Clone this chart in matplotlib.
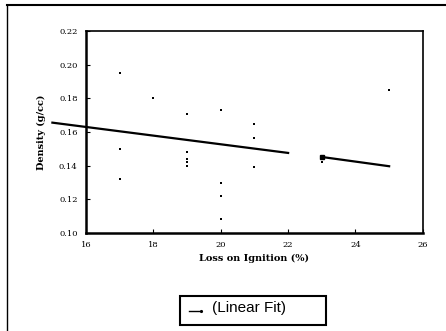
import matplotlib
matplotlib.use("Agg")
import matplotlib.pyplot as plt
from matplotlib.lines import Line2D
from matplotlib.patches import Rectangle

# Data
loi = [16, 16, 16, 17, 17, 17, 18, 19, 19, 19, 19, 19, 20, 20, 20, 20, 21, 21, 21, 23, 23, 25]
density = [0.211, 0.171, 0.150, 0.195, 0.150, 0.132, 0.180, 0.171, 0.148, 0.144, 0.142, 0.140,
           0.173, 0.130, 0.122, 0.1085, 0.1645, 0.1565, 0.139, 0.144, 0.142, 0.185]

fit1_x = [15.0, 22.0]
fit1_y = [0.1656, 0.1476]
fit2_x = [23.0, 25.0]
fit2_y = [0.1452, 0.1397]

xticks = [16, 18, 20, 22, 24, 26]
yticks = [0.10, 0.12, 0.14, 0.16, 0.18, 0.20, 0.22]
ytick_labels = ["0.10", "0.12", "0.14", "0.16", "0.18", "0.20", "0.22"]
legend_label = "(Linear Fit)"

fig = plt.figure(figsize=(4.46, 3.31), dpi=100)
ax = fig.add_axes([0.193, 0.296, 0.755, 0.610])

ax.scatter(loi, density, s=3, marker='s', color='black', linewidths=0, zorder=3)
ax.plot(fit1_x, fit1_y, color='black', lw=1.6, clip_on=False, zorder=2)
ax.plot(fit2_x, fit2_y, color='black', lw=1.6, zorder=2)
ax.plot([fit2_x[0]], [fit2_y[0]], marker='s', ms=3.5, color='black')

ax.set_xlim(16, 26)
ax.set_ylim(0.10, 0.22)
ax.set_xticks(xticks)
ax.set_xticklabels([str(t) for t in xticks], family='DejaVu Serif', fontsize=6)
ax.set_yticks(yticks)
ax.set_yticklabels(ytick_labels, family='DejaVu Serif', fontsize=6)
ax.tick_params(direction='in', length=3, width=0.8, pad=6)

for s in ['left', 'bottom']:
    ax.spines[s].set_linewidth(1.8)
for s in ['top', 'right']:
    ax.spines[s].set_linewidth(1.2)

ax.set_xlabel("Loss on Ignition (%)", family='DejaVu Serif', fontsize=7, fontweight='bold', labelpad=3)
ax.set_ylabel("Density (g/cc)", family='DejaVu Serif', fontsize=7, fontweight='bold', labelpad=9)

# Legend drawn as a box with a short line sample and text
W, H = 446.0, 331.0
box = Rectangle((180 / W, 1 - 325 / H), 146 / W, 29 / H, transform=fig.transFigure,
                fill=False, edgecolor='black', lw=1.5)
fig.add_artist(box)
fig.add_artist(Line2D([189 / W, 201 / W], [1 - 311 / H, 1 - 311 / H], color='black', lw=1.0,
                      marker='.', markevery=[1], ms=2.5, transform=fig.transFigure))
fig.text(212 / W, 1 - 308 / H, legend_label, family='Liberation Sans', fontsize=11,
         va='center', ha='left')

# Figure border lines (top and left)
fig.add_artist(Line2D([0.015, 1.0], [0.985, 0.985], color='black', lw=1.5, transform=fig.transFigure))
fig.add_artist(Line2D([0.015, 0.015], [0.0, 0.985], color='black', lw=1.0, transform=fig.transFigure))

fig.savefig("out.png", dpi=100)
